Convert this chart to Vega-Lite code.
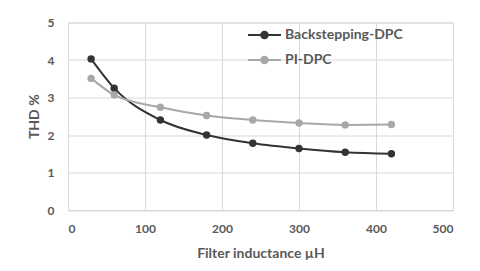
{
  "$schema": "https://vega.github.io/schema/vega-lite/v6.json",
  "width": 385,
  "height": 187.5,
  "autosize": {"type": "none"},
  "padding": {"left": 68, "top": 22.5, "right": 27, "bottom": 61},
  "background": "white",
  "data": {
    "values": [
      {"L": 30, "THD": 4.03, "series": "Backstepping-DPC"},
      {"L": 60, "THD": 3.25, "series": "Backstepping-DPC"},
      {"L": 120, "THD": 2.4, "series": "Backstepping-DPC"},
      {"L": 180, "THD": 2.0, "series": "Backstepping-DPC"},
      {"L": 240, "THD": 1.78, "series": "Backstepping-DPC"},
      {"L": 300, "THD": 1.64, "series": "Backstepping-DPC"},
      {"L": 360, "THD": 1.54, "series": "Backstepping-DPC"},
      {"L": 420, "THD": 1.5, "series": "Backstepping-DPC"},
      {"L": 30, "THD": 3.51, "series": "PI-DPC"},
      {"L": 60, "THD": 3.07, "series": "PI-DPC"},
      {"L": 120, "THD": 2.74, "series": "PI-DPC"},
      {"L": 180, "THD": 2.52, "series": "PI-DPC"},
      {"L": 240, "THD": 2.4, "series": "PI-DPC"},
      {"L": 300, "THD": 2.32, "series": "PI-DPC"},
      {"L": 360, "THD": 2.27, "series": "PI-DPC"},
      {"L": 420, "THD": 2.28, "series": "PI-DPC"}
    ]
  },
  "encoding": {
    "x": {
      "field": "L",
      "type": "quantitative",
      "scale": {"domain": [0, 500], "nice": false},
      "axis": {"values": [0, 100, 200, 300, 400, 500], "title": "Filter inductance µH"}
    },
    "y": {
      "field": "THD",
      "type": "quantitative",
      "scale": {"domain": [0, 5], "nice": false},
      "axis": {"values": [0, 1, 2, 3, 4, 5], "title": "THD %"}
    },
    "color": {
      "field": "series",
      "type": "nominal",
      "scale": {"domain": ["Backstepping-DPC", "PI-DPC"], "range": ["#333333", "#a8a8a8"]},
      "legend": {
        "title": null,
        "orient": "none",
        "legendX": 184.5,
        "legendY": 0.5,
        "symbolType": "M-1.5,0H1.5M-0.3,0A0.3,0.3 0 1 1 0.3,0A0.3,0.3 0 1 1 -0.3,0Z",
        "symbolSize": 484,
        "symbolStrokeWidth": 2,
        "labelFont": "Lato",
        "labelFontSize": 14,
        "labelFontWeight": "bold",
        "labelColor": "#595959",
        "labelOffset": 8.5,
        "rowPadding": 5
      }
    }
  },
  "layer": [
    {"mark": {"type": "line", "interpolate": "monotone", "strokeWidth": 2}},
    {"mark": {"type": "point", "filled": true, "size": 55, "opacity": 1}}
  ],
  "config": {
    "view": {"stroke": "#d9d9d9"},
    "axis": {
      "domainColor": "#d9d9d9",
      "gridColor": "#d9d9d9",
      "ticks": false,
      "labelFont": "Lato",
      "labelFontSize": 12,
      "labelFontWeight": "bold",
      "labelColor": "#595959",
      "titleFont": "Lato",
      "titleFontSize": 14,
      "titleFontWeight": "bold",
      "titleColor": "#595959"
    },
    "axisX": {"labelPadding": 13, "titlePadding": 12},
    "axisY": {"labelPadding": 14, "titlePadding": 6}
  }
}
